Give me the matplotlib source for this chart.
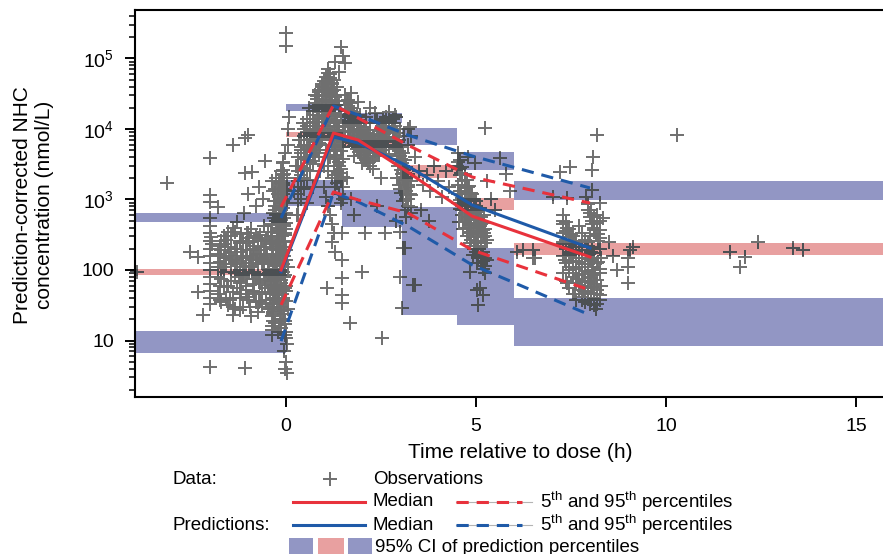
import matplotlib.pyplot as plt
from matplotlib.lines import Line2D
from matplotlib.patches import Rectangle

plt.rcParams['font.family'] = ['Liberation Sans', 'DejaVu Sans']
plt.rcParams['mathtext.default'] = 'regular'

# --- VPC summary (bin median times) ---
vpc_time = [-0.13, 1.25, 1.9, 3.2, 4.9, 8.0]
obs_p50 = [100, 8770, 6980, 2460, 580, 153]
obs_p05 = [32, 1280, 985, 646, 192, 52]
obs_p95 = [783, 21900, 14300, 5930, 2080, 890]
pred_p50 = [94, 7700, 6330, 2990, 835, 205]
pred_p05 = [9.8, 1250, 923, 421, 118, 23]
pred_p95 = [547, 21200, 15800, 8220, 4140, 1456]

# --- bins and 95% CI of predicted percentiles ---
bin_lo = [-4.5, 0.0, 1.48, 3.05, 4.5, 6.0]
bin_hi = [0.0, 1.48, 3.05, 4.5, 6.0, 16.5]
ci95_lo = [480, 18000, 12200, 5930, 2620, 985]
ci95_hi = [646, 22600, 16900, 10300, 4720, 1830]
ci50_lo = [84, 7700, 5560, 2020, 710, 163]
ci50_hi = [102, 9060, 6980, 3080, 1050, 242]
ci05_lo = [6.7, 810, 410, 23, 16.6, 8.4]
ci05_hi = [13.6, 1890, 1365, 783, 205, 40]

# --- observations (prediction-corrected), scattered points ---
pre_t = [-3.92, -3.13, -2.0, -1.39, -1.08, -1.0, -1.08, -0.9, -0.55, -0.7,
         -2.0, -2.0, -1.79, -2.0, -2.0, -2.0, -2.0, -2.0, -2.0, -2.0, -2.0,
         -2.0, -2.0, -2.0, -2.0, -2.0, -1.97, -1.95, -2.53, -2.32, -2.32,
         -2.18, -2.0, -1.08, -1.39, -1.47, -1.6, -1.5, -1.45, -1.35, -1.3,
         -1.25, -1.2, -1.15, -1.1, -1.05, -1.0, -0.95, -0.9, -0.85, -0.8,
         -0.75, -0.72, -0.7, -0.65, -0.6, -0.58, -0.55, -0.5, -0.48, -0.45,
         -1.55, -1.65, -1.7, -1.2, -0.95, -1.3, -1.1, -0.8, -0.6, -1.0]
pre_c = [94, 1710, 3870, 5900, 7400, 8200, 2370, 2450, 3500, 1500,
         1160, 920, 780, 550, 420, 330, 260, 200, 160, 125, 100,
         80, 64, 50, 40, 33, 290, 230, 180, 153, 49,
         23, 4.2, 4.1, 23, 37, 230, 160, 300, 120, 200,
         80, 260, 150, 110, 60, 330, 190, 90, 45, 140,
         280, 70, 35, 210, 120, 420, 55, 170, 28, 90,
         60, 110, 75, 40, 30, 480, 650, 800, 1000, 1200]

dose_t = [-0.35, -0.3, -0.25, -0.2, -0.15, -0.1, -0.05, 0.0, -0.32, -0.28,
          -0.22, -0.18, -0.12, -0.08, -0.02, -0.33, -0.27, -0.23, -0.17,
          -0.13, -0.07, -0.03, 0.02, -0.36, -0.29, -0.21, -0.16, -0.11,
          -0.06, -0.01, 0.03, -0.3, -0.22, -0.15, -0.08, -0.02, 0.02, -0.05,
          0.0, -0.03, 0.02, -0.12, -0.18, -0.25, -0.1, 0.01, 0.04, -0.4,
          -0.38, -0.35, -0.26, -0.14, -0.04, 0.04, 0.05, 0.05, 0.08, 0.0, 0.0]
dose_c = [25, 40, 60, 85, 120, 180, 260, 380, 550, 800,
          1200, 1700, 2500, 3300, 4500, 150, 220, 330, 480,
          700, 1000, 1400, 2000, 70, 100, 140, 200, 300,
          450, 650, 900, 18, 13, 15, 20, 12, 9, 7,
          5, 4, 3.5, 30, 50, 35, 45, 60, 28, 300,
          200, 130, 600, 900, 160, 110, 6000, 10000, 15000, 2.3e5, 1.5e5]

peak_t = [0.2, 0.25, 0.3, 0.35, 0.4, 0.45, 0.5, 0.55, 0.6, 0.65, 0.7, 0.75,
          0.8, 0.85, 0.9, 0.95, 1.0, 1.05, 1.1, 1.15, 1.2, 1.25, 1.1, 1.2,
          1.3, 1.35, 1.4, 1.45, 1.5, 1.0, 1.05, 1.1, 1.15, 1.2, 1.25, 1.3,
          1.35, 1.4, 1.45, 1.47, 1.47, 1.08, 1.47, 1.47, 1.47, 1.68, 1.2,
          1.3, 1.45, 1.5, 1.55, 1.4, 1.3, 0.7, 0.8, 0.9, 1.0, 1.1, 1.2, 1.3,
          1.4, 0.6, 0.5, 0.4, 1.25, 1.35, 1.05, 0.95]
peak_c = [1300, 3000, 600, 7000, 2000, 12000, 4000, 900, 20000, 8000, 1500,
          30000, 5000, 14000, 2500, 40000, 9000, 25000, 18000, 60000, 35000,
          50000, 70000, 45000, 28000, 12000, 22000, 16000, 9000, 1500, 1100,
          800, 600, 450, 330, 2200, 1700, 1200, 900, 330, 138, 56, 77, 44,
          34, 18, 250, 180, 1.45e5, 1.1e5, 86000, 65000, 90000, 3500, 10000,
          6000, 15000, 4000, 7000, 5000, 3000, 6000, 10000, 5000, 20000,
          40000, 33000, 22000]

mid_t = [1.6, 1.7, 1.8, 1.9, 2.0, 2.1, 2.2, 2.3, 2.4, 2.5, 2.6, 2.7, 1.65,
         1.75, 1.85, 1.95, 2.05, 2.15, 2.25, 2.35, 2.45, 2.55, 2.65, 1.7,
         1.9, 2.2, 1.8, 2.0, 2.3, 2.5, 2.08, 2.0, 2.53, 2.6, 1.6, 1.7, 1.8,
         2.4, 2.8, 2.85, 2.9, 2.95, 3.0, 3.05, 3.1, 3.15, 3.2, 3.25, 2.9,
         3.0, 3.1, 3.2, 3.26, 2.95, 3.05, 3.1, 3.0, 3.15, 3.2, 3.3, 3.08,
         3.0, 3.05, 3.34, 3.13, 3.39, 2.9, 3.0, 3.4, 3.5, 3.6, 3.7, 3.8,
         3.9, 4.0, 4.1, 4.2, 3.55, 3.75, 4.3]
mid_c = [25000, 18000, 14000, 11000, 9000, 15000, 12000, 8000, 13000,
         10000, 7000, 11000, 7000, 9500, 6000, 16000, 5000, 8500, 6500,
         17000, 5500, 14000, 9000, 32000, 24000, 20000, 4200, 3300, 2700,
         2000, 330, 94, 11, 330, 2000, 1000, 600, 800, 12000, 9000, 7000,
         5500, 4200, 3300, 2600, 2000, 1600, 1200, 15000, 10000, 8000, 6000,
         10700, 3000, 2300, 1800, 1400, 1000, 800, 650, 205, 80, 29, 61, 205,
         61, 500, 350, 4000, 2500, 1600, 2200, 1300, 3000, 1800, 1100, 2500,
         700, 500, 1500]

late_t = [4.5, 4.6, 4.7, 4.8, 4.9, 5.0, 5.1, 5.2, 4.55, 4.65, 4.75, 4.85,
          4.95, 5.05, 4.6, 4.7, 4.8, 4.9, 5.0, 5.1, 5.2, 5.3, 4.62, 4.72,
          4.82, 4.92, 5.02, 4.97, 5.24, 5.63, 4.92, 5.03, 4.84, 5.29, 5.1,
          5.03, 5.18, 5.05, 4.8, 5.3, 5.4, 5.5, 6.08, 6.5, 6.24, 6.5, 6.55,
          5.8, 5.9]
late_c = [3000, 2400, 1900, 1500, 1200, 950, 750, 600, 480, 380, 300, 240,
          200, 160, 1300, 1000, 800, 650, 520, 420, 340, 270, 700, 560, 450,
          360, 290, 3300, 10300, 3900, 163, 125, 94, 139, 56, 52, 44, 32,
          4000, 1800, 1000, 700, 180, 148, 190, 190, 148, 2300, 1300]

trough_t = [7.2, 7.47, 8.05, 8.05, 8.26, 8.34, 8.18, 8.08, 7.39, 7.03, 7.3,
            7.4, 7.5, 7.6, 7.7, 7.8, 7.35, 7.45, 7.55, 7.65, 7.75, 7.85, 7.3,
            7.5, 7.7, 7.4, 7.6, 7.8, 7.95, 8.0, 8.05, 8.1, 8.0, 7.95, 8.05,
            8.1, 8.0, 7.95, 8.05, 8.1, 8.0, 8.05, 7.95, 8.1, 8.0, 8.15, 8.2,
            8.25, 8.2, 8.25, 8.3, 8.3, 9.05, 9.0, 9.0, 9.0, 9.13, 8.6, 8.7,
            8.5, 10.29, 11.68, 11.95, 12.08, 12.42, 13.34, 13.6]
trough_c = [2450, 2900, 2620, 1370, 890, 550, 8200, 4000, 1050, 1090, 500,
            400, 320, 260, 210, 170, 140, 110, 90, 75, 60, 50, 230, 180, 130,
            65, 45, 38, 700, 560, 450, 370, 300, 250, 210, 175, 145, 120, 100,
            85, 70, 58, 48, 40, 33, 28, 320, 200, 130, 90, 60, 150, 190, 110,
            65, 150, 210, 160, 100, 250, 8200, 180, 110, 153, 250, 205, 190]

# --- observations in the dense clusters: sampling times and rows of readings ---
pre_grid_t = [-1.8, -1.75, -1.7, -1.62, -1.58, -1.52, -1.44, -1.4, -1.33, -1.28,
              -1.22, -1.18, -1.12, -1.06, -1.02, -0.98, -0.93, -0.88, -0.83,
              -0.78, -0.74, -0.68, -0.63, -0.57, -0.52, -0.47, -0.43, -0.4]
pre_grid_c = [
    [45, 130, 260, 95, 40, 210, 70, 140, 350, 55, 100, 180, 30, 240, 75, 125,
     380, 50, 95, 170, 25, 65, 260, 140, 38, 105, 230, 60],
    [170, 60, 110, 300, 150, 32, 120, 48, 90, 200, 27, 320, 85, 150, 42, 280,
     110, 64, 200, 35, 120, 310, 48, 88, 160, 350, 45, 140],
    [80, 220, 35, 150, 270, 60, 180, 400, 28, 130, 240, 70, 160, 52, 330, 95,
     22, 140, 260, 75, 190, 36, 130, 420, 85, 62, 30, 250],
    [110, 38, 190, 58, 120, 350, 95, 30, 200, 140, 65, 45, 260, 115, 190, 38,
     160, 220, 48, 300, 85, 150, 33, 210, 270, 120, 80, 350],
]
dose_grid_t = [-0.38, -0.34, -0.31, -0.28, -0.26, -0.24, -0.21, -0.19, -0.17,
               -0.14, -0.12, -0.09, -0.07, -0.04, -0.02, 0.01]
dose_grid_c = [
    [22, 38, 55, 90, 130, 190, 270, 390, 560, 820, 1150, 1600, 2200, 1300, 900, 600],
    [16, 28, 48, 70, 105, 160, 230, 340, 480, 700, 1000, 1400, 750, 420, 250, 140],
    [12, 19, 33, 52, 78, 115, 170, 250, 370, 520, 65, 95, 40, 24, 17, 11],
    [300, 200, 140, 100, 75, 58, 44, 34, 26, 20, 15, 180, 120, 80, 55, 36],
    [450, 650, 950, 1400, 2000, 280, 400, 600, 850, 1250, 1800, 2600, 3400, 210, 310, 460],
    [28, 45, 75, 115, 170, 250, 360, 520, 760, 1100, 1500, 2000, 950, 540, 330, 190],
    [14, 24, 40, 62, 95, 140, 210, 300, 430, 630, 880, 1200, 1700, 2300, 85, 50],
    [1800, 1300, 950, 700, 500, 360, 260, 190, 140, 100, 72, 52, 38, 27, 19, 13],
]
peak_grid_t = [0.32, 0.4, 0.48, 0.56, 0.64, 0.7, 0.76, 0.82, 0.88, 0.94, 1.0,
               1.05, 1.1, 1.15, 1.2, 1.25, 1.3, 1.35, 1.4, 1.45, 1.5]
peak_grid_c = [
    [2500, 4500, 6000, 9000, 12000, 16000, 21000, 27000, 33000, 41000, 48000,
     55000, 62000, 52000, 43000, 36000, 30000, 25000, 19000, 15000, 11000],
    [1800, 3000, 3800, 5200, 7200, 9500, 12500, 16000, 20000, 25000, 30000,
     36000, 42000, 32000, 26000, 21000, 17000, 13500, 10500, 8000, 6500],
    [1200, 2200, 2800, 3600, 4800, 6500, 8500, 11000, 14000, 17500, 21000,
     26000, 24000, 20000, 16000, 12500, 9800, 7800, 6000, 4800, 3800],
    [900, 1500, 2000, 2600, 3400, 4300, 5600, 7400, 9600, 12500, 15500, 19500,
     14000, 11000, 8800, 7000, 5500, 4300, 3400, 2700, 2100],
    [3000, 5500, 8000, 11000, 14000, 18000, 23000, 29000, 36000, 44000, 38000,
     47000, 35000, 29000, 24000, 19500, 15500, 12000, 9500, 7200, 5500],
    [600, 1000, 1400, 1900, 2500, 3200, 4000, 5000, 6300, 8000, 10000, 12500,
     9500, 7500, 6000, 4800, 3800, 3000, 2400, 1900, 1500],
    [4000, 7000, 10000, 14000, 8000, 11000, 6000, 9000, 4500, 7000, 3000, 5000,
     2500, 4000, 2000, 3000, 1500, 2500, 1200, 1800, 1000],
]
mid_grid_t = [1.56, 1.62, 1.68, 1.74, 1.8, 1.86, 1.92, 1.98, 2.04, 2.1, 2.16,
              2.22, 2.28, 2.34, 2.4, 2.46, 2.52, 2.58, 2.64, 2.7]
mid_grid_c = [
    [22000, 19000, 16500, 14500, 12500, 11000, 9800, 8800, 8000, 7400, 6800,
     6200, 5800, 5400, 5000, 4700, 6200, 7800, 9800, 12000],
    [30000, 26000, 23000, 20000, 17500, 15500, 13500, 12000, 10800, 9700, 8800,
     8000, 7200, 6600, 6000, 8000, 10000, 12500, 15000, 17500],
    [12000, 10500, 9000, 8000, 7000, 6200, 5500, 4800, 4300, 3900, 4500, 5200,
     6000, 7000, 8200, 9500, 11000, 7200, 5600, 4400],
    [18000, 15000, 13000, 11500, 10000, 9000, 8200, 7500, 6900, 6400, 6000,
     5600, 5200, 4900, 4600, 4300, 5000, 6000, 7500, 9000],
    [9000, 8000, 7000, 6300, 5700, 5200, 4700, 4300, 3900, 3600, 3300, 3000,
     3500, 4200, 5000, 6000, 7200, 8600, 10500, 13000],
]
col3_grid_t = [2.82, 2.88, 2.93, 2.98, 3.02, 3.07, 3.12, 3.17, 3.22, 3.28]
col3_grid_c = [
    [14000, 11000, 8800, 7000, 5600, 4500, 3600, 2900, 2300, 1800],
    [9500, 7600, 6000, 4800, 3800, 3000, 2400, 1900, 1500, 1150],
    [6500, 5200, 4100, 3300, 2600, 2100, 1700, 1300, 1000, 780],
    [12000, 16000, 2000, 1600, 1250, 950, 720, 560, 10000, 8000],
]
col5_grid_t = [4.52, 4.58, 4.64, 4.7, 4.76, 4.82, 4.88, 4.94, 5.0, 5.06, 5.12,
               5.18, 5.24]
col5_grid_c = [
    [2700, 2200, 1800, 1450, 1180, 960, 780, 640, 520, 430, 350, 290, 240],
    [1600, 1300, 1050, 860, 700, 570, 470, 390, 320, 260, 215, 180, 150],
    [900, 740, 600, 490, 400, 330, 270, 220, 180, 150, 125, 105, 90],
    [4500, 3600, 2900, 2300, 1900, 1550, 1250, 1000, 820, 680, 560, 460, 380],
    [3400, 2800, 2300, 1900, 1550, 1250, 1000, 820, 670, 550, 450, 370, 300],
    [1200, 980, 800, 650, 530, 430, 350, 290, 240, 200, 165, 135, 115],
]
col8_grid_t = [7.3, 7.38, 7.46, 7.54, 7.62, 7.7, 7.78, 7.86, 7.94, 8.02, 8.1,
               8.18, 8.26]
col8_grid_c = [
    [600, 480, 380, 300, 240, 190, 150, 120, 95, 78, 64, 52, 44],
    [330, 270, 215, 170, 135, 110, 88, 70, 57, 47, 39, 33, 280],
    [160, 125, 100, 80, 65, 52, 42, 35, 900, 720, 580, 460, 370],
    [90, 70, 56, 45, 37, 420, 340, 270, 220, 180, 150, 125, 105],
    [450, 360, 290, 230, 185, 150, 120, 97, 80, 66, 55, 46, 38],
    [250, 200, 160, 130, 105, 85, 68, 55, 45, 38, 32, 600, 500],
]
trough_col_t = [7.9, 7.95, 8.0, 8.05, 8.1, 8.15, 8.2, 7.92, 7.98, 8.04, 8.08,
                8.12, 8.18]
trough_col_c = [1100, 850, 650, 500, 400, 320, 260, 210, 170, 135, 110, 90, 72]

obs_t = pre_t + dose_t + peak_t + mid_t + late_t + trough_t + trough_col_t
obs_c = pre_c + dose_c + peak_c + mid_c + late_c + trough_c + trough_col_c
for grid_t, grid_c in [(pre_grid_t, pre_grid_c), (dose_grid_t, dose_grid_c),
                       (peak_grid_t, peak_grid_c), (mid_grid_t, mid_grid_c),
                       (col3_grid_t, col3_grid_c), (col5_grid_t, col5_grid_c),
                       (col8_grid_t, col8_grid_c)]:
    for row in grid_c:
        obs_t = obs_t + grid_t
        obs_c = obs_c + row

RED = '#e8323c'
BLUE = '#1f5aa8'
RED_BAND = '#e8a0a0'
BLUE_BAND = '#9296c4'
PT = '#6f6f6f'
PT_DARK = '#4c5053'

W, H = 883, 554
fig = plt.figure(figsize=(W / 100, H / 100), dpi=100)
ax = fig.add_axes([135 / W, 1 - 397 / H, (905 - 135) / W, 387 / H])
ax.set_yscale('log')
ax.set_xlim(-151 / 38, (905 - 286) / 38)
ax.set_ylim(1.58, 4.87e5)

bands = [(ci95_lo, ci95_hi, BLUE_BAND), (ci50_lo, ci50_hi, RED_BAND),
         (ci05_lo, ci05_hi, BLUE_BAND)]
rects = []
for lo_list, hi_list, col in bands:
    for x0, x1, y0, y1 in zip(bin_lo, bin_hi, lo_list, hi_list):
        ax.fill_between([x0, x1], [y0, y0], [y1, y1], color=col, lw=0, zorder=1)
        rects.append((x0, x1, y0, y1))

ax.plot(obs_t, obs_c, '+', color=PT, ms=9.5, mew=1.4, zorder=2)
# darker where observations overlap the bands
for x0, x1, y0, y1 in rects:
    ln, = ax.plot(obs_t, obs_c, '+', color=PT_DARK, ms=9.5, mew=1.4, zorder=2.5)
    ln.set_clip_path(Rectangle((x0, y0), x1 - x0, y1 - y0, transform=ax.transData))

dash = (4, 2.6)
ax.plot(vpc_time, pred_p05, color=BLUE, lw=2.2, dashes=dash, zorder=3)
ax.plot(vpc_time, pred_p95, color=BLUE, lw=2.2, dashes=dash, zorder=3)
ax.plot(vpc_time, pred_p50, color=BLUE, lw=2.2, zorder=3)
ax.plot(vpc_time, obs_p05, color=RED, lw=2.2, dashes=dash, zorder=4)
ax.plot(vpc_time, obs_p95, color=RED, lw=2.2, dashes=dash, zorder=4)
ax.plot(vpc_time, obs_p50, color=RED, lw=2.2, zorder=4)

for side in ['left', 'bottom', 'top']:
    ax.spines[side].set_linewidth(1.5)
ax.spines['right'].set_visible(False)

ax.set_xticks([0, 5, 10, 15])
ax.set_yticks([10, 100, 1e3, 1e4, 1e5])
ax.set_yticklabels(['10', '100', '10$^3$', '10$^4$', '10$^5$'])
ax.tick_params(axis='both', which='major', direction='out', length=7,
               width=1.4, labelsize=14)
ax.tick_params(axis='x', pad=8)
ax.tick_params(axis='y', pad=8)
ax.tick_params(axis='y', which='minor', direction='out', length=4.5, width=1.1)
ax.tick_params(axis='x', which='minor', bottom=False)

ax.set_xlabel('Time relative to dose (h)', fontsize=15, labelpad=6)
fig.text(34 / W, 1 - 205 / H, 'Prediction-corrected NHC\nconcentration (nmol/L)',
         rotation=90, ha='center', va='center', fontsize=15, linespacing=1.2)

# --- legend (figure pixel coordinates) ---
def fx(x):
    return x / W


def fy(y):
    return 1 - y / H


fs = 13.5
fig.text(fx(172), fy(479), 'Data:', fontsize=fs, va='center')
fig.text(fx(172), fy(525), 'Predictions:', fontsize=fs, va='center')
fig.add_artist(Line2D([fx(330)], [fy(479)], marker='+', color=PT, ms=9.5, mew=1.4,
                      transform=fig.transFigure))
fig.text(fx(373), fy(479), 'Observations', fontsize=fs, va='center')
pct = '5$^{th}$ and 95$^{th}$ percentiles'
for yy, col in [(502, RED), (525, BLUE)]:
    fig.add_artist(Line2D([fx(293), fx(365)], [fy(yy), fy(yy)], color=col,
                          lw=2.2, transform=fig.transFigure))
    fig.text(fx(373), fy(yy), 'Median', fontsize=fs, va='center')
    fig.add_artist(Line2D([fx(456), fx(532)], [fy(yy), fy(yy)], color='#b4b4b4',
                          lw=0.8, transform=fig.transFigure))
    fig.add_artist(Line2D([fx(456), fx(522)], [fy(yy), fy(yy)], color=col,
                          lw=2.2, dashes=dash, transform=fig.transFigure))
    fig.text(fx(540), fy(yy), pct, fontsize=fs, va='center')
for x0, x1, col in [(289, 313, BLUE_BAND), (318, 344, RED_BAND), (348, 372, BLUE_BAND)]:
    fig.add_artist(Rectangle((fx(x0), fy(560)), fx(x1) - fx(x0), fy(538) - fy(560),
                             color=col, lw=0, transform=fig.transFigure))
fig.text(fx(375), fy(547), '95% CI of prediction percentiles', fontsize=fs, va='center')

fig.savefig('out.png', dpi=100)
